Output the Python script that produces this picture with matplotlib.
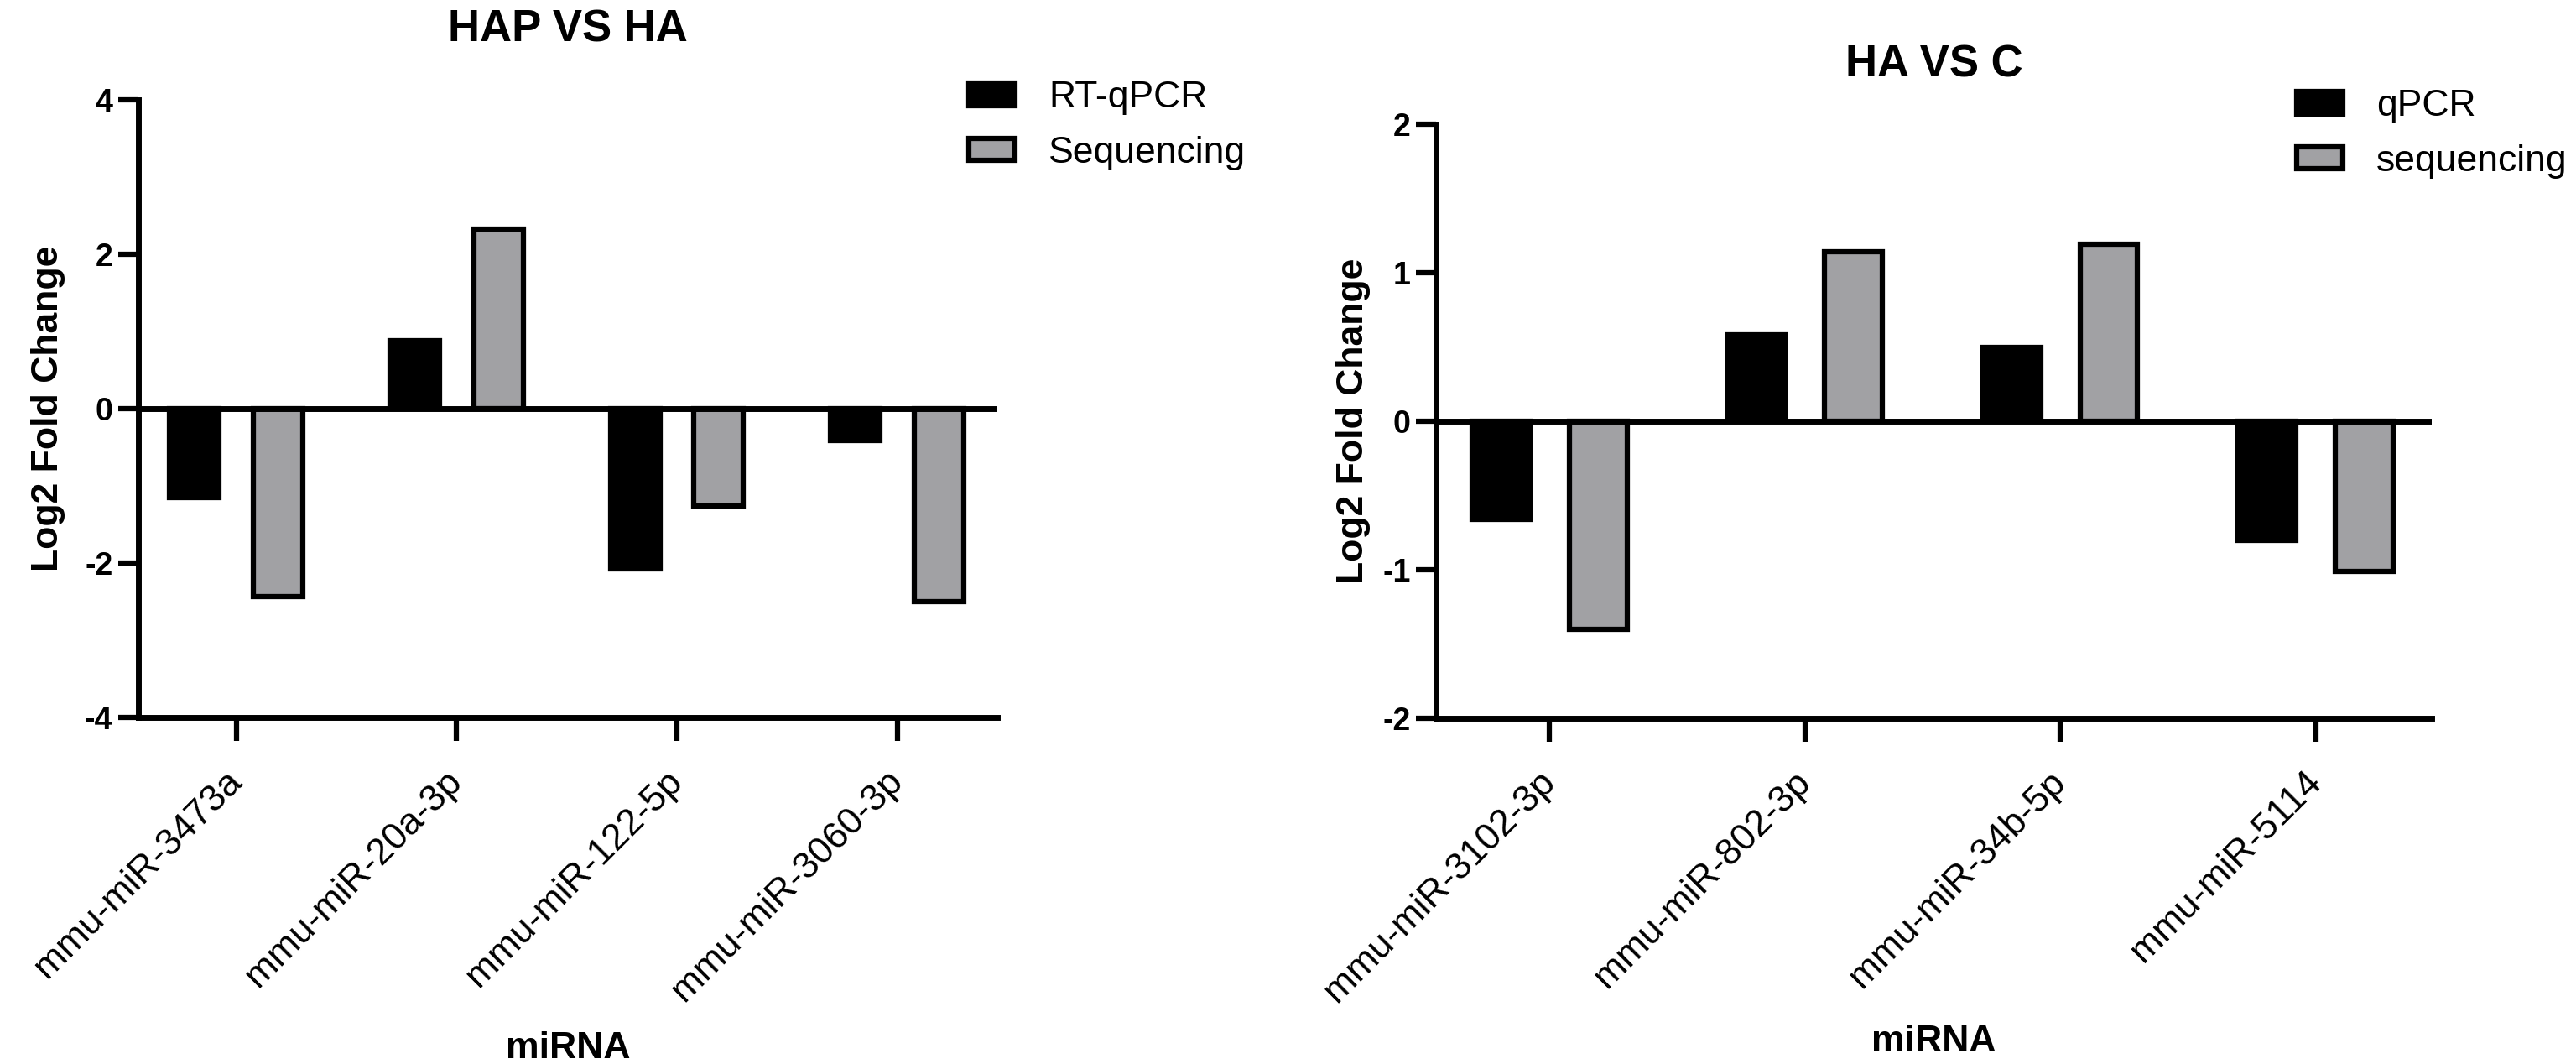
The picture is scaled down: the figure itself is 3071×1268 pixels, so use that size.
import matplotlib
matplotlib.use('Agg')
from matplotlib import pyplot as plt
from matplotlib.transforms import ScaledTranslation
import numpy as np

plt.rcParams['font.family'] = ['Liberation Sans', 'DejaVu Sans']

# left panel: HAP VS HA
left_mirnas = ['mmu-miR-3473a', 'mmu-miR-20a-3p', 'mmu-miR-122-5p', 'mmu-miR-3060-3p']
left_rtqpcr = [-1.15, 0.88, -2.08, -0.41]
left_seq = [-2.43, 2.33, -1.26, -2.50]

# right panel: HA VS C
right_mirnas = ['mmu-miR-3102-3p', 'mmu-miR-802-3p', 'mmu-miR-34b-5p', 'mmu-miR-5114']
right_qpcr = [-0.66, 0.58, 0.50, -0.80]
right_seq = [-1.40, 1.14, 1.19, -1.01]

GREY = '#a1a1a4'
W = 3071
H = 1268
fig = plt.figure(figsize=(W / 100, H / 100), dpi=100)


def px_box(x0, y0, x1, y1):
    # pixel box (top-left origin) -> figure fraction rect
    return [x0 / W, 1 - y1 / H, (x1 - x0) / W, (y1 - y0) / H]


def panel(rect, names, a, b, labels, ylim, yticks, title, title_pad, leg_xy, xlab_y, ylab_x):
    ax = fig.add_axes(rect)
    x = np.arange(len(names))
    ax.bar(x - 0.19, a, width=0.225, color='black', edgecolor='black',
           linewidth=4.5, label=labels[0], zorder=2)
    ax.bar(x + 0.19, b, width=0.225, color=GREY, edgecolor='black',
           linewidth=4.5, label=labels[1], zorder=2)
    ax.axhline(0, color='black', lw=5, zorder=3)
    ax.set_xlim(-0.445, 3.455)
    ax.set_ylim(*ylim)
    ax.set_yticks(yticks)
    ax.set_yticklabels([str(t) for t in yticks], fontsize=27, fontweight='bold')
    ax.set_xticks(x)
    ax.set_xticklabels(names, fontsize=32, rotation=45, ha='right', va='center',
                       rotation_mode='anchor')
    off = ScaledTranslation(0.17, 0, fig.dpi_scale_trans)
    for lab in ax.get_xticklabels():
        lab.set_transform(lab.get_transform() + off)
    for side in ['top', 'right']:
        ax.spines[side].set_visible(False)
    for side in ['left', 'bottom']:
        ax.spines[side].set_linewidth(5)
    ax.tick_params(axis='y', length=17, width=4.5, pad=5)
    ax.tick_params(axis='x', length=20, width=4.5, pad=30)
    ax.set_title(title, fontsize=38, fontweight='bold', pad=title_pad)
    ax.set_ylabel('Log2 Fold Change', fontsize=32, fontweight='bold')
    ax.yaxis.set_label_coords(ylab_x, 0.5)
    ax.set_xlabel('miRNA', fontsize=32, fontweight='bold')
    ax.xaxis.set_label_coords(0.5, xlab_y)
    ax.legend(loc='center left', bbox_to_anchor=(leg_xy[0] / W, 1 - leg_xy[1] / H),
              bbox_transform=fig.transFigure, frameon=False, fontsize=32,
              borderpad=0, borderaxespad=0, handlelength=1.24, handleheight=0.54,
              handletextpad=0.9, labelspacing=0.56)
    return ax


panel(px_box(165, 119, 1189, 855), left_mirnas, left_rtqpcr, left_seq,
      ['RT-qPCR', 'Sequencing'], (-4, 4), [-4, -2, 0, 2, 4], 'HAP VS HA', 50,
      (1155, 149.5), -0.508, -0.085)
panel(px_box(1712, 148, 2899, 856), right_mirnas, right_qpcr, right_seq,
      ['qPCR', 'sequencing'], (-2, 2), [-2, -1, 0, 1, 2], 'HA VS C', 41,
      (2738, 159.5), -0.5155, -0.066)

fig.savefig('out.png', dpi=100)
